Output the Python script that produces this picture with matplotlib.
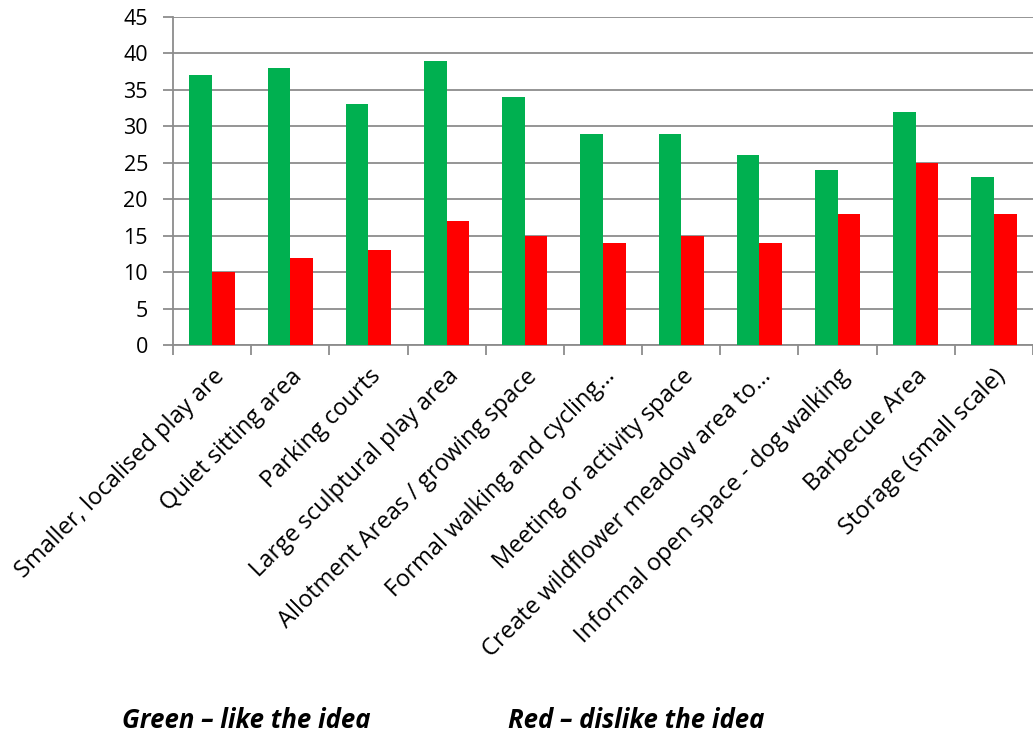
import matplotlib
matplotlib.use("Agg")
import matplotlib.pyplot as plt
import numpy as np

categories = ["Smaller, localised play are", "Quiet sitting area", "Parking courts",
              "Large sculptural play area", "Allotment Areas / growing space",
              "Formal walking and cycling…", "Meeting or activity space",
              "Create wildflower meadow area to…", "Informal open space - dog walking",
              "Barbecue Area", "Storage (small scale)"]
like = [37, 38, 33, 39, 34, 29, 29, 26, 24, 32, 23]
dislike = [10, 12, 13, 17, 15, 14, 15, 14, 18, 25, 18]
yticks = list(range(0, 50, 5))

plt.rcParams['font.family'] = ['Open Sans', 'DejaVu Sans']

fig = plt.figure(figsize=(10.33, 7.38), dpi=100)
ax = fig.add_axes([173/1033, 1 - 345/738, 1 - 173/1033, (345 - 17)/738])

x = np.arange(len(categories))
w = 0.29
ax.bar(x - w/2, like, width=w, color='#00B050', zorder=3)
ax.bar(x + w/2, dislike, width=w, color='#FF0000', zorder=3)

ax.set_xlim(-0.5, len(categories) - 0.5)
ax.set_ylim(0, 45)
ax.set_yticks(yticks)
ax.yaxis.grid(True, color='#8C8C8C', linewidth=1.3, zorder=0)
ax.set_axisbelow(True)

ax.set_xticks(np.arange(len(categories) + 1) - 0.5, minor=False)
ax.set_xticklabels([])
ax.set_xticks(x, minor=True)
ax.set_xticklabels(categories, minor=True, rotation=45, ha='right',
                   rotation_mode='anchor', fontsize=17)
ax.tick_params(axis='x', which='minor', length=0, pad=14)
ax.tick_params(axis='x', which='major', length=7, width=1.3, color='#8C8C8C')
ax.tick_params(axis='y', length=7, width=1.3, color='#8C8C8C', labelsize=15.5, pad=11)

for s in ['top', 'right']:
    ax.spines[s].set_visible(False)
for s in ['left', 'bottom']:
    ax.spines[s].set_color('#8C8C8C')
    ax.spines[s].set_linewidth(1.3)

fig.text(122/1033, 1 - 721/738, "Green – like the idea", fontsize=18.5,
         fontweight='bold', fontstyle='italic', va='center', ha='left')
fig.text(508/1033, 1 - 721/738, "Red – dislike the idea", fontsize=18.5,
         fontweight='bold', fontstyle='italic', va='center', ha='left')

fig.savefig("out.png", dpi=100)
